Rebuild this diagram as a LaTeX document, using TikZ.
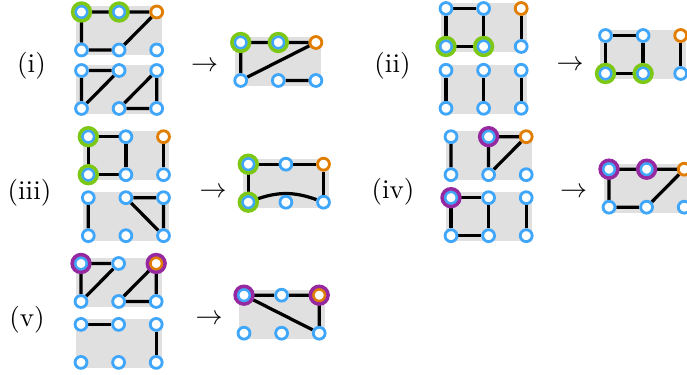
\documentclass[tikz,border=0pt]{standalone}
\pgfdeclarelayer{bg}
\pgfdeclarelayer{edges}
\pgfsetlayers{bg,edges,main}
\definecolor{vblue}{RGB}{64,166,250}
\definecolor{vgreen}{RGB}{125,200,20}
\definecolor{vorange}{RGB}{225,125,0}
\definecolor{vpurple}{RGB}{150,40,160}
\definecolor{bggray}{RGB}{224,224,224}
\tikzset{
  vtx/.style={circle,draw=vblue,fill=white,line width=1.05pt,minimum size=4.4pt,inner sep=0pt},
  vorg/.style={vtx,draw=vorange},
  gring/.style={circle,draw=vgreen,line width=1.3pt,minimum size=6.6pt,inner sep=0pt},
  pring/.style={gring,draw=vpurple},
  edge/.style={line width=1.2pt,black},
  panel/.style={fill=bggray},
  lbl/.style={inner sep=0pt,text height=0.75em,text depth=0.25em},
  arr/.style={inner sep=0pt,text height=0.5em,text depth=0pt},
}
\newcommand\mkgrid[4]{%
  \node[vtx] (#1a) at (#2,#3) {};
  \node[vtx] (#1b) at ({#2+37.6},#3) {};
  \node[#4] (#1c) at ({#2+75.2},#3) {};
  \node[vtx] (#1d) at (#2,{#3+38}) {};
  \node[vtx] (#1e) at ({#2+37.6},{#3+38}) {};
  \node[vtx] (#1f) at ({#2+75.2},{#3+38}) {};
  \begin{pgfonlayer}{bg}
    \fill[panel] ({#2-5.5},{#3-5.5}) rectangle ({#2+80.7},{#3+43.5});
  \end{pgfonlayer}
}
\begin{document}
\begin{tikzpicture}[x=0.3704pt,y=-0.3704pt]
\useasboundingbox (0,0) rectangle (687,375);
% grids
\mkgrid{A}{81.5}{12}{vorg}
\mkgrid{B}{81.5}{70.5}{vtx}
\mkgrid{C}{240.7}{42.5}{vorg}
\mkgrid{D}{446}{8.5}{vorg}
\mkgrid{E}{446}{70.3}{vtx}
\mkgrid{F}{605.5}{35.5}{vorg}
\mkgrid{G}{88.3}{136.7}{vorg}
\mkgrid{H}{88.3}{197.7}{vtx}
\mkgrid{I}{248.3}{164.2}{vorg}
\mkgrid{J}{451}{136.7}{vorg}
\mkgrid{K}{451}{197.7}{vtx}
\mkgrid{L}{609}{169.2}{vorg}
\mkgrid{M}{81}{263.5}{vorg}
\mkgrid{N}{81}{324.4}{vtx}
\mkgrid{O}{244}{295.2}{vorg}
% rings
\node[gring] (Aar) at (Aa) {};
\node[gring] (Abr) at (Ab) {};
\node[gring] (Car) at (Ca) {};
\node[gring] (Cbr) at (Cb) {};
\node[gring] (Ddr) at (Dd) {};
\node[gring] (Der) at (De) {};
\node[gring] (Fdr) at (Fd) {};
\node[gring] (Fer) at (Fe) {};
\node[gring] (Gar) at (Ga) {};
\node[gring] (Gdr) at (Gd) {};
\node[gring] (Iar) at (Ia) {};
\node[gring] (Idr) at (Id) {};
\node[pring] (Jbr) at (Jb) {};
\node[pring] (Kar) at (Ka) {};
\node[pring] (Lar) at (La) {};
\node[pring] (Lbr) at (Lb) {};
\node[pring] (Mar) at (Ma) {};
\node[pring] (Mcr) at (Mc) {};
\node[pring] (Oar) at (Oa) {};
\node[pring] (Ocr) at (Oc) {};
% labels and arrows
\node[lbl] (l1) at (31.5,66) {(i)};
\node[lbl] (l2) at (392.5,65.5) {(ii)};
\node[lbl] (l3) at (29.5,192.5) {(iii)};
\node[lbl] (l4) at (393,192) {(iv)};
\node[lbl] (l5) at (27,320) {(v)};
\node[arr] (r1) at (204.5,65) {$\to$};
\node[arr] (r2) at (570,63.5) {$\to$};
\node[arr] (r3) at (213,191) {$\to$};
\node[arr] (r4) at (573.7,191) {$\to$};
\node[arr] (r5) at (209,317.7) {$\to$};
% edges
\begin{pgfonlayer}{edges}
\draw[edge] (Aa)--(Ab) (Ab)--(Ac) (Aa)--(Ad) (Ad)--(Ae) (Ae)--(Ac);
\draw[edge] (Ba)--(Bb) (Ba)--(Bd) (Bd)--(Bb) (Be)--(Bc) (Bc)--(Bf) (Be)--(Bf);
\draw[edge] (Ca)--(Cb) (Cb)--(Cc) (Ca)--(Cd) (Cd)--(Cc) (Ce)--(Cf);
\draw[edge] (Da)--(Db) (Da)--(Dd) (Db)--(De) (Dd)--(De) (Dc)--(Df);
\draw[edge] (Ea)--(Ed) (Eb)--(Ee) (Ec)--(Ef);
\draw[edge] (Fa)--(Fb) (Fa)--(Fd) (Fb)--(Fe) (Fd)--(Fe) (Fc)--(Ff);
\draw[edge] (Ga)--(Gb) (Ga)--(Gd) (Gb)--(Ge) (Gd)--(Ge) (Gc)--(Gf);
\draw[edge] (Ha)--(Hd) (Hb)--(Hc) (Hb)--(Hf) (Hc)--(Hf);
\draw[edge] (Ia)--(Ib) (Ib)--(Ic) (Ia)--(Id) (Ic)--(If);
\draw[edge] (Id) to[bend left=20] (If);
\draw[edge] (Ja)--(Jd) (Jb)--(Je) (Jb)--(Jc) (Je)--(Jc);
\draw[edge] (Ka)--(Kb) (Ka)--(Kd) (Kb)--(Ke) (Kd)--(Ke) (Kc)--(Kf);
\draw[edge] (La)--(Lb) (Lb)--(Lc) (La)--(Ld) (Ld)--(Le) (Le)--(Lc);
\draw[edge] (Ma)--(Mb) (Ma)--(Md) (Md)--(Mb) (Me)--(Mc) (Mc)--(Mf) (Me)--(Mf);
\draw[edge] (Na)--(Nb) (Nc)--(Nf);
\draw[edge] (Oa)--(Ob) (Ob)--(Oc) (Oa)--(Of) (Oc)--(Of);
\end{pgfonlayer}
\end{tikzpicture}
\end{document}
